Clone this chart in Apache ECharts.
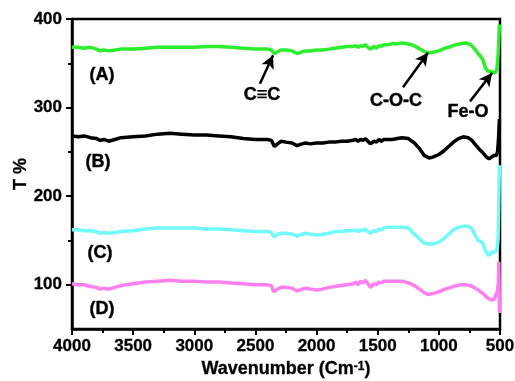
<!DOCTYPE html>
<html>
<head>
<meta charset="utf-8">
<script src="https://cdn.jsdelivr.net/npm/echarts@6/dist/echarts.min.js"></script>
<style>
  html, body { margin: 0; padding: 0; background: #fff; }
  #chart { width: 515px; height: 381px; }
</style>
</head>
<body>
<div id="chart"></div>
<script>
// spectra: [wavenumber, T %]
const seriesA = [[4000,368],[3950,368],[3900,367],[3850,368],[3800,366],[3770,364],[3740,365],[3700,364],[3650,365],[3600,366],[3500,366],[3400,367],[3300,368],[3200,368],[3100,368],[3000,368],[2900,369],[2800,369],[2700,368],[2600,367],[2500,366],[2400,366],[2370,365],[2345,361],[2320,363],[2290,365],[2250,365],[2200,364],[2160,361],[2120,363],[2090,364],[2050,364],[2000,365],[1950,365],[1900,366],[1850,367],[1800,368],[1750,369],[1700,369],[1680,370],[1660,368],[1640,370],[1620,369],[1600,371],[1580,368],[1560,366],[1545,365],[1530,369],[1510,367],[1490,370],[1470,369],[1450,371],[1420,371],[1380,372],[1340,372],[1300,373],[1260,372],[1220,371],[1180,368],[1140,365],[1100,362],[1070,362],[1030,363],[1000,364],[950,367],[900,369],[860,371],[820,372],[780,373],[740,371],[700,365],[680,361],[660,358],[640,354],[620,345],[600,341],[580,341],[560,340],[540,339],[525,344],[515,360],[505,394]]
const seriesB = [[4000,268],[3950,267],[3900,268],[3850,266],[3800,265],[3770,263],[3740,264],[3700,262],[3650,264],[3600,266],[3500,267],[3400,268],[3300,270],[3200,271],[3100,270],[3000,269],[2900,269],[2800,268],[2700,267],[2600,265],[2500,264],[2400,264],[2370,263],[2345,256],[2320,259],[2290,262],[2250,261],[2200,260],[2160,257],[2120,259],[2090,260],[2050,259],[2000,260],[1950,260],[1900,261],[1850,261],[1800,262],[1750,262],[1700,263],[1680,264],[1660,262],[1640,264],[1620,263],[1600,265],[1580,262],[1560,259],[1545,258],[1530,262],[1510,261],[1490,264],[1470,262],[1450,264],[1420,264],[1380,264],[1340,265],[1300,266],[1250,265],[1200,260],[1160,254],[1120,246],[1080,243],[1050,244],[1000,247],[960,251],[920,256],[880,261],[840,265],[800,267],[760,266],[730,263],[700,258],[670,253],[640,249],[610,244],[590,242],[570,244],[550,246],[530,246],[520,250],[512,265],[505,287]]
const seriesC = [[4000,162],[3950,162],[3900,161],[3850,161],[3800,160],[3770,158],[3740,159],[3700,158],[3650,159],[3600,160],[3500,161],[3400,163],[3300,164],[3200,164],[3100,164],[3000,164],[2900,163],[2800,163],[2700,162],[2600,161],[2500,160],[2400,160],[2370,159],[2350,154],[2320,157],[2290,158],[2250,158],[2200,157],[2160,155],[2120,157],[2090,158],[2050,157],[2000,156],[1950,157],[1900,158],[1850,160],[1800,160],[1750,161],[1700,161],[1680,162],[1660,160],[1640,162],[1620,161],[1600,163],[1580,160],[1560,158],[1545,157],[1530,161],[1510,160],[1490,163],[1470,162],[1450,164],[1420,165],[1380,165],[1340,165],[1300,165],[1250,164],[1200,157],[1160,152],[1120,147],[1080,146],[1040,146],[1000,148],[960,152],[920,157],[880,162],[840,165],[800,166],[760,166],[730,163],[700,155],[680,150],[660,149],[640,147],[625,140],[610,136],[595,133],[580,134],[565,137],[550,136],[535,137],[522,142],[515,152],[505,235]]
const seriesD = [[4000,101],[3950,100],[3900,100],[3850,98],[3800,97],[3770,95],[3740,96],[3700,95],[3650,97],[3600,99],[3500,101],[3400,103],[3300,104],[3200,105],[3100,104],[3000,104],[2900,103],[2800,103],[2700,102],[2600,101],[2500,100],[2400,100],[2370,99],[2350,92],[2320,95],[2290,97],[2250,97],[2200,96],[2160,93],[2120,95],[2090,96],[2050,95],[2000,94],[1950,95],[1900,97],[1850,98],[1800,99],[1750,100],[1700,101],[1680,103],[1660,100],[1640,104],[1620,102],[1600,105],[1580,101],[1560,97],[1545,96],[1530,101],[1510,100],[1490,103],[1470,102],[1450,104],[1420,104],[1380,104],[1340,104],[1300,104],[1250,102],[1200,99],[1160,95],[1120,91],[1090,89],[1050,90],[1000,92],[950,95],[900,97],[860,99],[820,100],[780,100],[740,99],[700,96],[670,93],[640,90],[610,86],[590,84],[570,83],[550,83],[535,85],[522,92],[514,102],[510,126],[505,68]]

const curveNames = ['(A)', '(B)', '(C)', '(D)']
const curveLabelAt = [[3755,337],[3787,239],[3771,136],[3755,73]]

const bandNames = ['C\u2261C', 'C-O-C', 'Fe-O']
const bandLabelAt = [[2446,314],[1350,307],[761,295]]
const arrowFrom = [[2463,327],[1293,323],[745,307]]
const arrowTo = [[2356,359],[1089,362],[565,339]]

const xTicks = { min: 500, max: 4000, step: 500 }
const yMajor = [100, 200, 300, 400]
const yMinor = [150, 250, 350]

const FONT = "'Liberation Sans', Arial, sans-serif"
const chart = echarts.init(document.getElementById('chart'), null, { renderer: 'canvas' })

const spectrum = (data, color) => ({
  type: 'line',
  data,
  showSymbol: false,
  smooth: false,
  lineStyle: { color, width: 3.5 },
  silent: true,
})

const textLabel = {
  show: true, position: 'inside', formatter: (p) => p.name,
  color: '#000', fontSize: 18, fontWeight: 'bold', fontFamily: FONT,
  textBorderColor: '#000', textBorderWidth: 0.4, opacity: 1,
}

chart.setOption({
  animation: false,
  backgroundColor: '#fff',
  textStyle: { fontFamily: FONT },
  grid: {
    left: 72, right: 15, top: 19, bottom: 52,
    containLabel: false, outerBoundsMode: 'none',
    show: true, borderColor: '#000', borderWidth: 2.5, backgroundColor: 'transparent',
  },
  xAxis: {
    type: 'value',
    inverse: true,
    min: xTicks.min,
    max: xTicks.max,
    interval: xTicks.step,
    axisLine: { lineStyle: { color: '#000', width: 2.5 } },
    axisTick: { show: true, inside: false, length: 6, lineStyle: { color: '#000', width: 2 } },
    minorTick: { show: true, splitNumber: 2, length: 4, lineStyle: { color: '#000', width: 2 } },
    axisLabel: {
      color: '#000', fontSize: 17, fontWeight: 'bold', margin: 9, fontFamily: FONT,
      textBorderColor: '#000', textBorderWidth: 0.3,
      formatter: (v) => String(v),
    },
    splitLine: { show: false },
    name: 'Wavenumber (Cm{sup|-1})',
    nameLocation: 'middle',
    nameGap: 30,
    nameTextStyle: {
      color: '#000', fontSize: 18, fontWeight: 'bold', fontFamily: FONT,
      textBorderColor: '#000', textBorderWidth: 0.3,
      rich: { sup: { fontSize: 12, fontWeight: 'bold', color: '#000', verticalAlign: 'top', fontFamily: FONT } },
    },
  },
  yAxis: [
    {
      type: 'value',
      min: 50,
      max: 400,
      axisLine: { show: true, lineStyle: { color: '#000', width: 2.5 } },
      axisTick: { show: true, inside: false, length: 6, lineStyle: { color: '#000', width: 2 }, customValues: yMajor },
      axisLabel: {
        color: '#000', fontSize: 17, fontWeight: 'bold', margin: 10, fontFamily: FONT,
        textBorderColor: '#000', textBorderWidth: 0.3, customValues: yMajor,
      },
      splitLine: { show: false },
      name: 'T %',
      nameLocation: 'middle',
      nameGap: 42,
      nameMoveOverlap: false,
      nameTextStyle: { color: '#000', fontSize: 18, fontWeight: 'bold', fontFamily: FONT, textBorderColor: '#000', textBorderWidth: 0.3 },
    },
    {
      type: 'value',
      position: 'left',
      min: 50,
      max: 400,
      axisLine: { show: false },
      axisTick: { show: true, inside: false, length: 4, lineStyle: { color: '#000', width: 2 }, customValues: yMinor },
      axisLabel: { show: false, customValues: yMinor },
      splitLine: { show: false },
    },
  ],
  series: [
    spectrum(seriesD, '#ff7ff0'),
    spectrum(seriesC, '#70fafa'),
    spectrum(seriesB, '#000000'),
    spectrum(seriesA, '#2cee2c'),
    {
      type: 'scatter',
      silent: true,
      symbolSize: 0,
      itemStyle: { opacity: 1 },
      data: curveLabelAt.map((p, i) => ({ value: p, name: curveNames[i] })),
      label: textLabel,
    },
    {
      type: 'scatter',
      silent: true,
      symbolSize: 0,
      itemStyle: { opacity: 1 },
      data: bandLabelAt.map((p, i) => ({ value: p, name: bandNames[i] })),
      label: textLabel,
      markLine: {
        silent: true,
        animation: false,
        symbol: ['none', 'arrow'],
        symbolSize: [10, 13],
        label: { show: false },
        lineStyle: { color: '#000', width: 2.5, type: 'solid' },
        data: arrowFrom.map((p, i) => [{ coord: p }, { coord: arrowTo[i] }]),
      },
    },
  ],
})
</script>
</body>
</html>
